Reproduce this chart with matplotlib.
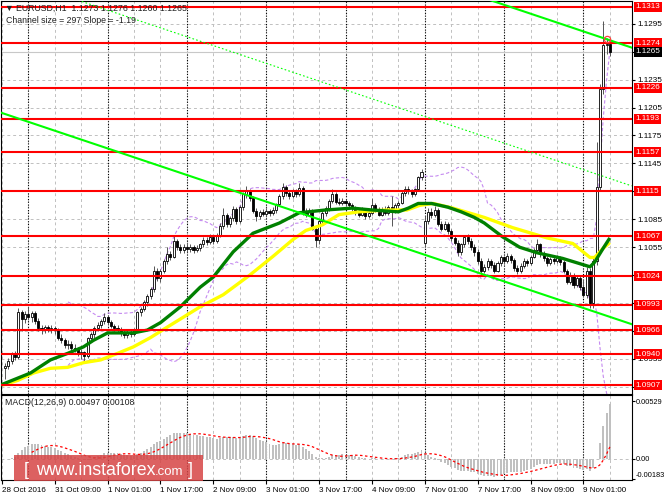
import numpy as np
import pandas as pd
import matplotlib
matplotlib.use('Agg')
import matplotlib.pyplot as plt
from matplotlib.patches import Rectangle

plt.rcParams['font.family'] = ['Liberation Sans', 'DejaVu Sans']

# EURUSD H1 candles, bar 0 = 28 Oct 2016 evening
opens = [1.0925, 1.0928, 1.0933, 1.0940, 1.0937, 1.0985, 1.0978, 1.0983, 1.0980, 1.0984,
         1.0976, 1.0968, 1.0966, 1.0969, 1.0967, 1.0968, 1.0966, 1.0958, 1.0955, 1.0950,
         1.0951, 1.0947, 1.0946, 1.0941, 1.0942, 1.0938, 1.0957, 1.0962, 1.0968, 1.0972,
         1.0976, 1.0980, 1.0975, 1.0970, 1.0968, 1.0966, 1.0963, 1.0961, 1.0963, 1.0962,
         1.0966, 1.0985, 1.0989, 1.0996, 1.1003, 1.1010, 1.1030, 1.1022, 1.1030, 1.1040,
         1.1048, 1.1045, 1.1062, 1.1055, 1.1052, 1.1055, 1.1053, 1.1055, 1.1052, 1.1054,
         1.1058, 1.1063, 1.1061, 1.1066, 1.1062, 1.1068, 1.1078, 1.1090, 1.1080, 1.1086,
         1.1096, 1.1083, 1.1098, 1.1112, 1.1116, 1.1108, 1.1094, 1.1088, 1.1093, 1.1091,
         1.1094, 1.1092, 1.1095, 1.1101, 1.1110, 1.1120, 1.1113, 1.1110, 1.1115, 1.1112,
         1.1119, 1.1093, 1.1090, 1.1094, 1.1075, 1.1063, 1.1083, 1.1092, 1.1097, 1.1105,
         1.1112, 1.1104, 1.1103, 1.1105, 1.1102, 1.1100, 1.1097, 1.1093, 1.1090, 1.1095,
         1.1088, 1.1092, 1.1100, 1.1095, 1.1090, 1.1096, 1.1092, 1.1098, 1.1094, 1.1100,
         1.1103, 1.1113, 1.1118, 1.1115, 1.1112, 1.1117, 1.1130, 1.1060, 1.1083, 1.1093,
         1.1090, 1.1095, 1.1080, 1.1075, 1.1080, 1.1072, 1.1065, 1.1060, 1.1050, 1.1058,
         1.1066, 1.1062, 1.1055, 1.1050, 1.1040, 1.1030, 1.1034, 1.1040, 1.1036, 1.1030,
         1.1038, 1.1044, 1.1040, 1.1046, 1.1041, 1.1033, 1.1029, 1.1035, 1.1040, 1.1038,
         1.1045, 1.1052, 1.1058, 1.1048, 1.1043, 1.1038, 1.1042, 1.1040, 1.1044, 1.1039,
         1.1030, 1.1018, 1.1025, 1.1014, 1.1022, 1.1012, 1.1004, 1.1030, 1.0995, 1.1040,
         1.1120, 1.1225, 1.1272, 1.1273]
highs = [1.0931, 1.0936, 1.0943, 1.0944, 1.0990, 1.0988, 1.0986, 1.0991, 1.0987, 1.0986,
         1.0979, 1.0972, 1.0972, 1.0972, 1.0971, 1.0970, 1.0968, 1.0962, 1.0958, 1.0955,
         1.0954, 1.0951, 1.0948, 1.0946, 1.0944, 1.0959, 1.0964, 1.0970, 1.0975, 1.0978,
         1.0984, 1.0982, 1.0977, 1.0973, 1.0971, 1.0969, 1.0966, 1.0966, 1.0966, 1.0968,
         1.0987, 1.0991, 1.0998, 1.1005, 1.1012, 1.1035, 1.1033, 1.1032, 1.1042, 1.1055,
         1.1051, 1.1068, 1.1064, 1.1058, 1.1058, 1.1058, 1.1058, 1.1057, 1.1057, 1.1060,
         1.1066, 1.1066, 1.1069, 1.1068, 1.1070, 1.1081, 1.1097, 1.1092, 1.1089, 1.1099,
         1.1098, 1.1100, 1.1114, 1.1121, 1.1118, 1.1110, 1.1097, 1.1095, 1.1096, 1.1097,
         1.1096, 1.1098, 1.1103, 1.1112, 1.1124, 1.1122, 1.1116, 1.1118, 1.1118, 1.1124,
         1.1121, 1.1097, 1.1097, 1.1096, 1.1078, 1.1085, 1.1094, 1.1099, 1.1107, 1.1118,
         1.1114, 1.1108, 1.1108, 1.1107, 1.1105, 1.1103, 1.1099, 1.1096, 1.1098, 1.1097,
         1.1094, 1.1108, 1.1103, 1.1098, 1.1098, 1.1099, 1.1100, 1.1110, 1.1102, 1.1105,
         1.1115, 1.1121, 1.1121, 1.1118, 1.1119, 1.1132, 1.1139, 1.1088, 1.1097, 1.1097,
         1.1099, 1.1097, 1.1083, 1.1083, 1.1082, 1.1075, 1.1068, 1.1063, 1.1060, 1.1068,
         1.1069, 1.1065, 1.1058, 1.1053, 1.1043, 1.1037, 1.1043, 1.1042, 1.1039, 1.1040,
         1.1047, 1.1046, 1.1049, 1.1048, 1.1043, 1.1036, 1.1038, 1.1043, 1.1042, 1.1047,
         1.1054, 1.1064, 1.1060, 1.1051, 1.1046, 1.1045, 1.1044, 1.1047, 1.1046, 1.1041,
         1.1032, 1.1028, 1.1027, 1.1025, 1.1024, 1.1020, 1.1034, 1.1033, 1.1044, 1.1168,
         1.1230, 1.1298, 1.1280, 1.1276]
lows = [1.0913, 1.0924, 1.0930, 1.0934, 1.0935, 1.0965, 1.0974, 1.0977, 1.0975, 1.0973,
        1.0965, 1.0962, 1.0963, 1.0964, 1.0963, 1.0962, 1.0955, 1.0952, 1.0947, 1.0946,
        1.0944, 1.0942, 1.0938, 1.0935, 1.0933, 1.0936, 1.0953, 1.0958, 1.0965, 1.0968,
        1.0973, 1.0972, 1.0968, 1.0965, 1.0963, 1.0960, 1.0957, 1.0958, 1.0959, 1.0960,
        1.0964, 1.0981, 1.0986, 1.0992, 1.0999, 1.1007, 1.1019, 1.1018, 1.1027, 1.1037,
        1.1041, 1.1043, 1.1052, 1.1049, 1.1049, 1.1050, 1.1050, 1.1049, 1.1050, 1.1051,
        1.1055, 1.1057, 1.1058, 1.1059, 1.1060, 1.1066, 1.1075, 1.1077, 1.1077, 1.1083,
        1.1080, 1.1081, 1.1095, 1.1108, 1.1105, 1.1092, 1.1083, 1.1085, 1.1088, 1.1089,
        1.1089, 1.1090, 1.1092, 1.1099, 1.1107, 1.1110, 1.1107, 1.1108, 1.1109, 1.1110,
        1.1090, 1.1087, 1.1088, 1.1073, 1.1055, 1.1058, 1.1080, 1.1089, 1.1094, 1.1102,
        1.1101, 1.1100, 1.1100, 1.1099, 1.1097, 1.1094, 1.1090, 1.1087, 1.1088, 1.1085,
        1.1086, 1.1090, 1.1093, 1.1088, 1.1088, 1.1090, 1.1090, 1.1078, 1.1092, 1.1097,
        1.1101, 1.1110, 1.1112, 1.1109, 1.1110, 1.1115, 1.1127, 1.1055, 1.1080, 1.1086,
        1.1087, 1.1078, 1.1072, 1.1073, 1.1069, 1.1062, 1.1057, 1.1046, 1.1047, 1.1055,
        1.1059, 1.1052, 1.1046, 1.1037, 1.1026, 1.1027, 1.1031, 1.1033, 1.1027, 1.1028,
        1.1035, 1.1037, 1.1038, 1.1038, 1.1030, 1.1026, 1.1027, 1.1033, 1.1035, 1.1036,
        1.1043, 1.1050, 1.1045, 1.1040, 1.1035, 1.1036, 1.1037, 1.1038, 1.1036, 1.1027,
        1.1015, 1.1015, 1.1011, 1.1012, 1.1009, 1.1002, 1.1001, 1.0990, 1.0990, 1.1036,
        1.1115, 1.1220, 1.1262, 1.1260]
closes = [1.0928, 1.0933, 1.0940, 1.0937, 1.0985, 1.0978, 1.0983, 1.0980, 1.0984, 1.0976,
          1.0968, 1.0966, 1.0969, 1.0967, 1.0968, 1.0966, 1.0958, 1.0955, 1.0950, 1.0951,
          1.0947, 1.0946, 1.0941, 1.0942, 1.0938, 1.0957, 1.0962, 1.0968, 1.0972, 1.0976,
          1.0980, 1.0975, 1.0970, 1.0968, 1.0966, 1.0963, 1.0961, 1.0963, 1.0962, 1.0966,
          1.0985, 1.0989, 1.0996, 1.1003, 1.1010, 1.1030, 1.1022, 1.1030, 1.1040, 1.1048,
          1.1045, 1.1062, 1.1055, 1.1052, 1.1055, 1.1053, 1.1055, 1.1052, 1.1054, 1.1058,
          1.1063, 1.1061, 1.1066, 1.1062, 1.1068, 1.1078, 1.1090, 1.1080, 1.1086, 1.1096,
          1.1083, 1.1098, 1.1112, 1.1116, 1.1108, 1.1094, 1.1088, 1.1093, 1.1091, 1.1094,
          1.1092, 1.1095, 1.1101, 1.1110, 1.1120, 1.1113, 1.1110, 1.1115, 1.1112, 1.1119,
          1.1093, 1.1090, 1.1094, 1.1075, 1.1063, 1.1083, 1.1092, 1.1097, 1.1105, 1.1112,
          1.1104, 1.1103, 1.1105, 1.1102, 1.1100, 1.1097, 1.1093, 1.1090, 1.1095, 1.1088,
          1.1092, 1.1100, 1.1095, 1.1090, 1.1096, 1.1092, 1.1098, 1.1094, 1.1100, 1.1103,
          1.1113, 1.1118, 1.1115, 1.1112, 1.1117, 1.1130, 1.1136, 1.1083, 1.1093, 1.1090,
          1.1095, 1.1080, 1.1075, 1.1080, 1.1072, 1.1065, 1.1060, 1.1050, 1.1058, 1.1066,
          1.1062, 1.1055, 1.1050, 1.1040, 1.1030, 1.1034, 1.1040, 1.1036, 1.1030, 1.1038,
          1.1044, 1.1040, 1.1046, 1.1041, 1.1033, 1.1029, 1.1035, 1.1040, 1.1038, 1.1045,
          1.1052, 1.1058, 1.1048, 1.1043, 1.1038, 1.1042, 1.1040, 1.1044, 1.1039, 1.1030,
          1.1018, 1.1025, 1.1014, 1.1022, 1.1012, 1.1004, 1.1030, 1.0995, 1.1040, 1.1120,
          1.1225, 1.1272, 1.1273, 1.1265]

# support / resistance levels drawn as red lines
levels = [1.1313, 1.1274, 1.1226, 1.1193, 1.1157, 1.1115, 1.1067, 1.1024, 1.0993, 1.0966, 1.0940, 1.0907]
price_ticks = [1.0905, 1.0935, 1.0965, 1.0995, 1.1025, 1.1055, 1.1085, 1.1115, 1.1145,
               1.1175, 1.1205, 1.1235, 1.1265, 1.1295]
bid = 1.1265

# moving averages (bar index, price)
green_x = [-1.4, 7.7, 13.7, 18.9, 23.7, 26.7, 31, 38.8, 43, 47, 53, 59, 63, 69, 75, 83, 89, 97,
           105, 111, 119, 122, 125, 129, 134, 138, 142, 145, 150.6, 155.7, 161, 168.7, 177, 178.4, 181, 183]
green_y = [1.0907, 1.0920, 1.0934, 1.0941, 1.0948, 1.0955, 1.0963, 1.0963, 1.0966, 1.0974, 1.0991,
           1.1012, 1.1023, 1.1050, 1.1070, 1.1081, 1.1092, 1.1095, 1.1097, 1.1095, 1.1093, 1.1097,
           1.1102, 1.1102, 1.1098, 1.1093, 1.1087, 1.1081, 1.1066, 1.1055, 1.1049, 1.1043, 1.1034,
           1.1039, 1.1054, 1.1065]
yellow_x = [-0.8, 3.8, 8.6, 13.7, 18.9, 23.7, 28.9, 34, 38.8, 44, 48.5, 59, 66, 74, 81, 87, 91, 96,
            101, 107, 115.5, 121.6, 125.5, 129.5, 135.5, 145, 153.6, 164, 171.8, 177, 178.4, 181, 183]
yellow_y = [1.0907, 1.0912, 1.0920, 1.0925, 1.0926, 1.0931, 1.0934, 1.0941, 1.0948, 1.0958, 1.0968,
            1.0991, 1.1004, 1.1025, 1.1045, 1.1063, 1.1073, 1.1079, 1.1090, 1.1093, 1.1095, 1.1095,
            1.1100, 1.1102, 1.1097, 1.1087, 1.1076, 1.1065, 1.1059, 1.1044, 1.1044, 1.1054, 1.1060]

# regression channel: lower line at bar 0, slope per bar, width (297 pips)
channel_low0 = 1.1198
channel_slope = -0.000119
channel_size = 0.0297

time_ticks = [-1, 15, 31, 47, 63, 79, 95, 111, 127, 143, 159, 175]
time_labels = ['28 Oct 2016', '31 Oct 09:00', '1 Nov 01:00', '1 Nov 17:00', '2 Nov 09:00',
               '3 Nov 01:00', '3 Nov 17:00', '4 Nov 09:00', '7 Nov 01:00', '7 Nov 17:00',
               '8 Nov 09:00', '9 Nov 01:00']
day_sep = [7, 31, 55, 79, 103, 127, 151, 175]

W, H = 664, 498
fig = plt.figure(figsize=(W / 100, H / 100), dpi=100)
ax = fig.add_axes([0.001, 1 - 394 / H, 631 / W, 393 / H])
axm = fig.add_axes([0.001, 1 - 480 / H, 631 / W, 85 / H], sharex=ax)

xmin, xmax = -1.36, 189.6
ax.set_xlim(xmin, xmax)
ax.set_ylim(1.08974, 1.13194)
axm.set_ylim(-0.00192, 0.00584)

o = np.array(opens); h = np.array(highs); l = np.array(lows); c = np.array(closes)
idx = np.arange(len(c))
up = c >= o

# grid
for p in price_ticks:
    ax.axhline(p, color='#c0c0c0', lw=0.7, ls=(0, (3, 3)), zorder=1)
for a in (ax, axm):
    for t in range(-1, 190, 8):
        a.axvline(t, color='#c0c0c0', lw=0.7, ls=(0, (3, 3)), zorder=1)
    for t in day_sep:
        a.axvline(t, color='black', lw=0.8, ls=(0, (1, 1.5)), zorder=1.2)
axm.axhline(0, color='#c0c0c0', lw=0.7, ls=(0, (3, 3)), zorder=1)

ax.axhline(bid, color='#c8c8c8', lw=0.8, zorder=1.5)

# bollinger bands 20,2
cs = pd.Series(c)
bb_mid = cs.rolling(20).mean()
bb_sd = cs.rolling(20).std(ddof=0)
for band in (bb_mid + 2 * bb_sd, bb_mid - 2 * bb_sd):
    ax.plot(idx, band, color='#c58af0', lw=0.8, ls=(0, (3, 2)), zorder=2)

# candles
ax.vlines(idx, l, h, color='#555555', lw=0.7, zorder=3)
ax.bar(idx[up], c[up] - o[up], bottom=o[up], width=0.62, facecolor='white',
       edgecolor='black', lw=0.6, zorder=3.5)
ax.bar(idx[~up], o[~up] - c[~up], bottom=c[~up], width=0.62, facecolor='black',
       edgecolor='black', lw=0.6, zorder=3.5)

ax.plot(yellow_x, yellow_y, color='#ffff00', lw=2.4, zorder=4, solid_capstyle='butt')
ax.plot(green_x, green_y, color='#008000', lw=2.4, zorder=4.2, solid_capstyle='butt')

for lv in levels:
    ax.axhline(lv, color='#ff0000', lw=1.5, zorder=5)

# channel
xs = np.array([xmin, xmax])
low_line = channel_low0 + channel_slope * xs
ax.plot(xs, low_line, color='#00ff00', lw=1.5, zorder=6)
ax.plot(xs, low_line + channel_size, color='#00ff00', lw=1.5, zorder=6)
ax.plot(xs, low_line + channel_size / 2, color='#00ff00', lw=0.8, ls=(0, (1.5, 2)), zorder=6)

ax.plot([182], [1.1279], marker='o', ms=4.5, mfc='none', mec='#ff4040', mew=0.9, zorder=7)

# macd 12,26,9
macd = cs.ewm(span=12, adjust=False).mean() - cs.ewm(span=26, adjust=False).mean()
signal = macd.rolling(9).mean()
axm.bar(idx, macd, width=0.6, color='#c0c0c0', zorder=2)
axm.plot(idx, signal, color='#ff0000', lw=0.9, ls=(0, (2, 2)), zorder=3)

# axes styling
for a in (ax, axm):
    for s in a.spines.values():
        s.set_color('black')
        s.set_linewidth(0.8)
    a.yaxis.tick_right()
    a.tick_params(axis='y', labelsize=5.9, length=2.5, pad=2, colors='black')

# tick labels hidden under a level box are left blank, as on the chart
ax.set_yticks(price_ticks)
ax.set_yticklabels(['' if min(abs(p - lv) for lv in levels + [bid]) < 0.0003 else f'{p:.4f}'
                    for p in price_ticks])
ax.tick_params(axis='x', bottom=False, labelbottom=False)

axm.set_yticks([0.00529, 0.0, -0.00183])
axm.set_yticklabels(['0.00529', '0.00', '-0.00183'])
axm.tick_params(axis='y', labelsize=5.3, pad=1, length=2)
axm.get_yticklabels()[2].set_va('bottom')
axm.set_xticks(time_ticks)
axm.set_xticklabels(time_labels, ha='left')
axm.tick_params(axis='x', labelsize=5.8, length=3, pad=2)

ytr = ax.get_yaxis_transform()
for lv in levels:
    ax.text(1.006, lv, f'{lv:.4f}', transform=ytr, fontsize=5.9, color='white', va='center',
            ha='left', zorder=10, clip_on=False,
            bbox=dict(boxstyle='square,pad=0.2', fc='#ff0000', ec='none'))
ax.text(1.006, bid, f'{bid:.4f}', transform=ytr, fontsize=5.9, color='white', va='center',
        ha='left', zorder=10, clip_on=False,
        bbox=dict(boxstyle='square,pad=0.2', fc='black', ec='none'))

fig.text(5 / W, 1 - 8 / H, '\u25bc EURUSD,H1  1.1273 1.1276 1.1260 1.1265', fontsize=6.3,
         va='center', color='#202020')
fig.text(6 / W, 1 - 20 / H, 'Channel size = 297 Slope = -1.19', fontsize=6.3,
         va='center', color='#202020')
fig.text(5 / W, 1 - 402 / H, 'MACD(12,26,9) 0.00497 0.00108', fontsize=6.3,
         va='center', color='#202020')

# watermark
fig.patches.append(Rectangle((14 / W, 1 - 481 / H), 189 / W, 26 / H, transform=fig.transFigure,
                             facecolor='#d64545', alpha=0.85, edgecolor='none', zorder=5))
yb = 1 - 475 / H
fig.text(24 / W, yb, '[', fontsize=13, color='white', va='baseline', zorder=6)
fig.text(36 / W, yb, 'www.instaforex', fontsize=12.8, color='white', va='baseline', zorder=6)
fig.text(155 / W, yb, '.com', fontsize=9.5, color='white', va='baseline', zorder=6)
fig.text(188 / W, yb, ']', fontsize=13, color='white', va='baseline', zorder=6)

fig.savefig('out.png', dpi=100)
